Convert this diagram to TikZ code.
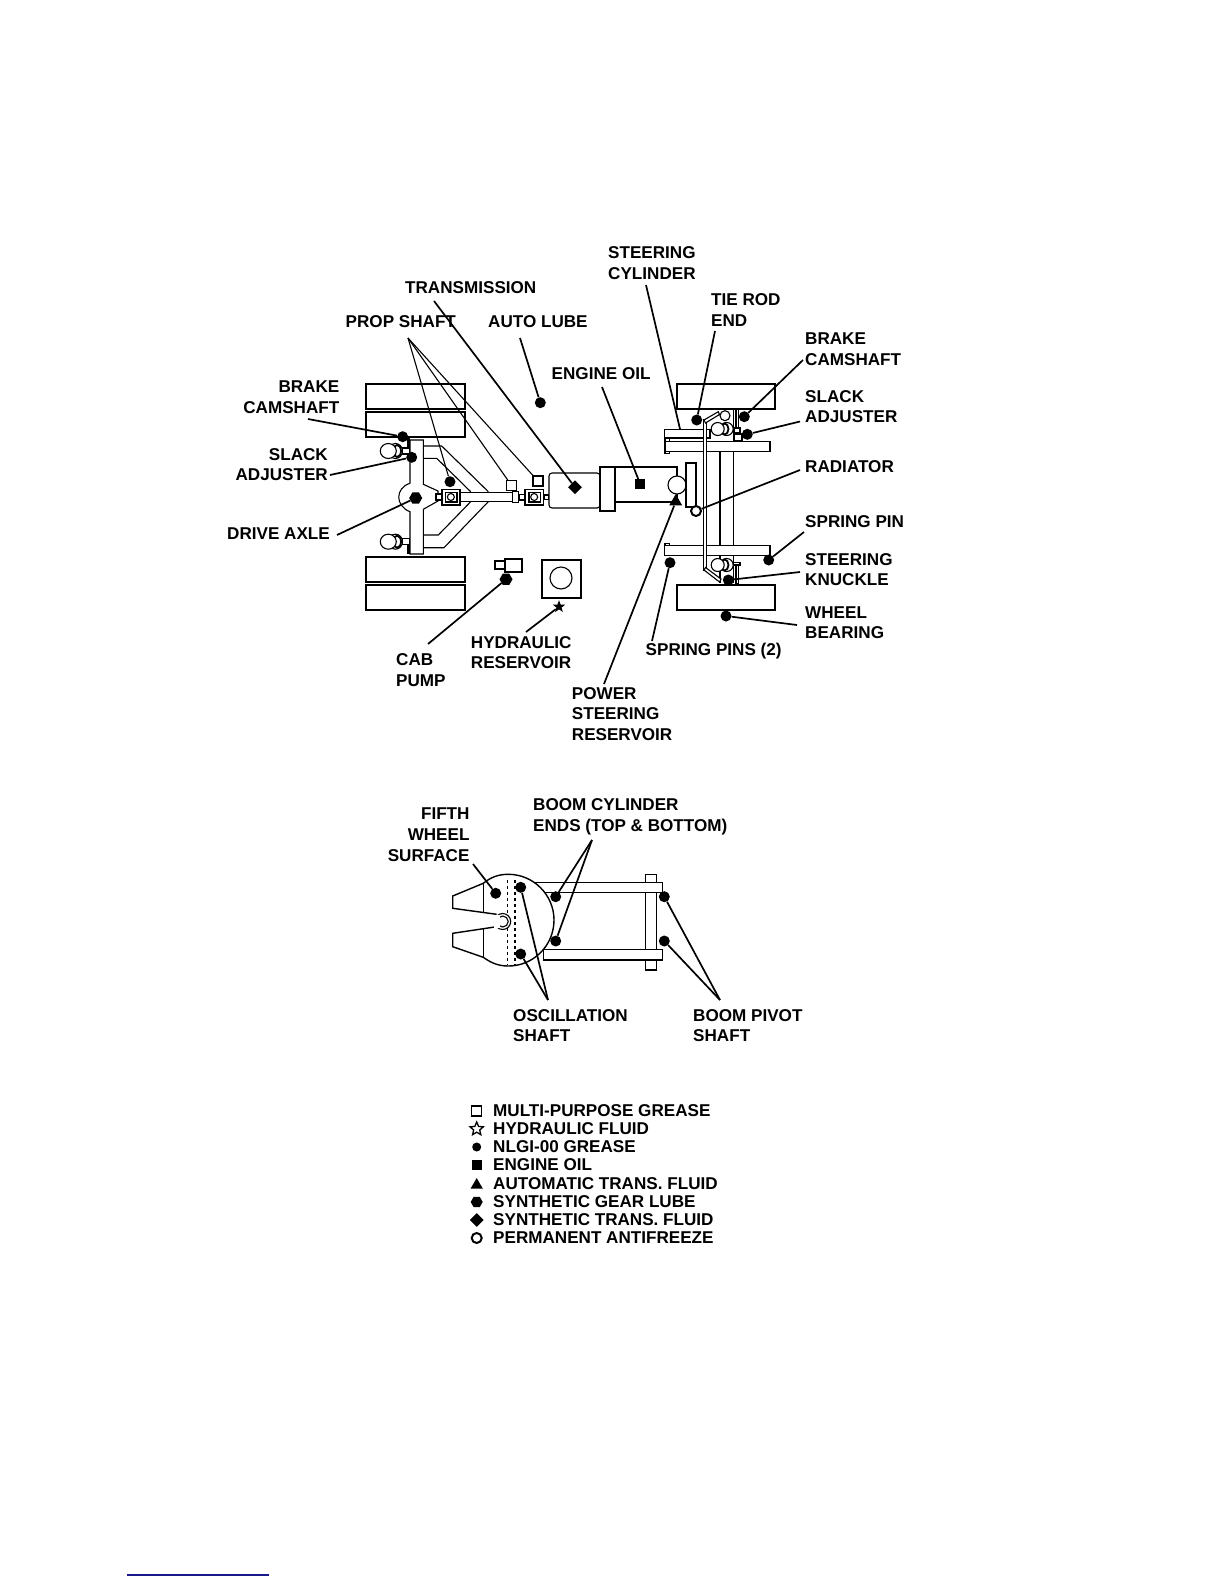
\documentclass[tikz,border=0pt]{standalone}
\usepackage{fontspec}
\setmainfont{Liberation Sans}
\usepackage{xcolor}
\usetikzlibrary{shapes.geometric, arrows.meta, positioning}
\definecolor{rulecol}{RGB}{25,25,140}

\begin{document}
\begin{tikzpicture}[
  x=1pt, y=-1pt,
  part/.style = {draw, line width=1.1pt, fill=white},
  plain/.style = {draw, line width=1.1pt},
  lead/.style = {draw, line width=1.7pt},
  lbl/.style = {inner sep=0pt, align=left, anchor=west, font=\bfseries\fontsize{17.1}{20.7}\selectfont},
  lblr/.style = {lbl, align=right, anchor=east},
  keytext/.style = {inner sep=0pt, anchor=west, font=\bfseries\fontsize{17.1}{18}\selectfont},
  dotmark/.style = {circle, fill=black, inner sep=0pt, minimum size=11pt},
  hexmark/.style = {regular polygon, regular polygon sides=6, fill=black, inner sep=0pt, minimum size=13pt},
  sqmark/.style = {rectangle, fill=black, inner sep=0pt, minimum size=10pt},
  dmdmark/.style = {diamond, fill=black, inner sep=0pt, minimum size=14pt},
  trimark/.style = {regular polygon, regular polygon sides=3, fill=black, inner sep=0pt, minimum size=15pt},
  starmark/.style = {star, star points=5, star point ratio=2.4, fill=black, inner sep=0pt, minimum size=13pt},
  ringmark/.style = {circle, draw, line width=2pt, fill=white, inner sep=0pt, minimum size=10pt},
  opensq/.style = {rectangle, draw, line width=1.3pt, fill=white, inner sep=0pt, minimum size=10pt},
  openstar/.style = {star, star points=5, star point ratio=2.2, draw, line width=1.3pt, fill=white, inner sep=0pt, minimum size=14pt}
]
  \useasboundingbox (0,0) rectangle (1224,1584);

  % rear wheels and axle
  \foreach \ytop/\ybot in {384/409, 412/437, 557/582, 585/610}
    \draw[part] (366,\ytop) rectangle (465,\ybot);
  \draw[plain] (423,446) -- (441.7,446) -- (488.3,491.7);
  \draw[plain] (423,458.3) -- (436.7,458.3) -- (470.7,491.7);
  \draw[plain] (423,535) -- (438.3,535) -- (470.7,501.7);
  \draw[plain] (423,547.7) -- (444,547.7) -- (488.3,501.7);
  \fill[black] (406.7,438) rectangle (410,458);
  \fill[black] (406.7,543) rectangle (410,554);
  \foreach \ypos in {451, 541.7} {
    \draw[part] (395.5,\ypos) ellipse (7 and 7.5);
    \draw[plain, line width=1.8pt] (397,\ypos) ellipse (4 and 6);
    \draw[part] (388.3,\ypos) ellipse (8 and 7.5);
    \draw[part] (402.7,\ypos-3) rectangle (410,\ypos+3);
  }
  \fill[white] (410,440) -- (423.3,440) -- (423.3,484.3) -- (438,491) -- (438,501) -- (423.3,509.3)
    -- (423.3,554) -- (410,554) -- (410,511.7) .. controls (395,506) and (395,488) .. (410,483.3) -- cycle;
  \draw[plain] (410,483.3) -- (410,440) -- (423.3,440) -- (423.3,484.3) -- (438,491) -- (438,501) -- (423.3,509.3)
    -- (423.3,554) -- (410,554) -- (410,511.7) .. controls (395,506) and (395,488) .. (410,483.3);

  % prop shaft
  \draw[part] (436,494) rectangle (441.7,500);
  \draw[part] (460,492.3) rectangle (513.3,501.7);
  \draw[part] (512.7,491.7) rectangle (518.3,502.3);
  \draw[part] (519,494.3) rectangle (525,500);
  \draw[part] (544,495) rectangle (548.3,499.3);
  \foreach \xa/\xb in {441.7/460, 525/543.3} {
    \draw[part, line width=1.6pt] (\xa,489.3) rectangle (\xb,505);
    \draw[plain] (\xa+4,492.5) rectangle (\xb-3,502);
    \draw[plain] ({(\xa+\xb)/2},497) circle (3.5);
  }
  \node[opensq] (propsqa) at (511.7,485.7) {};
  \node[opensq] (propsqb) at (538,481) {};

  % transmission and engine
  \draw[part, rounded corners=3pt] (549,473) rectangle (600,508);
  \draw[part] (615,467) rectangle (677,502);
  \draw[part] (600,467) rectangle (615,511);
  \draw[part] (677,485) circle (9);
  \draw[part] (686,463) rectangle (696,507);

  % cab pump and reservoir
  \draw[part] (505,559) rectangle (522,572);
  \draw[part] (495,561) rectangle (505,569);
  \draw[part] (542,560) rectangle (581,598);
  \draw[part] (561,578) circle (11);

  % front wheels and steering
  \draw[part] (677,384) rectangle (775,409);
  \draw[part] (677,585) rectangle (775,610);
  \draw[plain] (720,451) -- (720,546);
  \draw[plain] (733.3,409) -- (733.3,429);
  \draw[plain] (733.3,451) -- (733.3,546);
  \draw[plain] (720,555) -- (720,583);
  \draw[plain] (733.3,555) -- (733.3,583);
  \draw[part] (665,438) rectangle (669.3,453.3);
  \draw[part] (665,441.7) rectangle (770,451.3);
  \draw[part] (665,543.3) rectangle (669.3,546);
  \draw[part] (664.3,545.7) rectangle (770,555.3);
  \draw[part] (664.3,429.3) rectangle (710,438);
  \draw[part] (703.3,420) rectangle (706.7,570);
  \draw[part] (704,420) -- (718.3,411.7) -- (719.5,414.5) -- (705.5,423) -- cycle;
  \draw[part] (704,570) -- (705.5,567.5) -- (721,579) -- (719.5,582) -- cycle;
  \draw[part] (725,415.7) circle (5);
  \draw[part] (736,409) rectangle (738.7,433.3);
  \draw[part] (734,434) rectangle (742,441);
  \draw[part] (734,428) rectangle (740,433);
  \draw[part] (736,563.3) rectangle (738.7,583.3);
  \draw[part] (733.3,562.3) rectangle (740,565);
  \foreach \ypos in {429, 565} {
    \draw[part] (726.7,\ypos) circle (6.5);
    \draw[plain, line width=1.8pt] (724.5,\ypos) ellipse (4 and 5.5);
    \draw[part] (717.7,\ypos) circle (6.5);
  }

  % lube points
  \node[dotmark] (brakel) at (402.7,436.7) {};
  \node[dotmark] (slackl) at (411.7,457.3) {};
  \node[hexmark] (driveax) at (415.7,498) {};
  \node[dotmark] (propdot) at (450,481.7) {};
  \node[hexmark] (cabdot) at (506,579.3) {};
  \node[dotmark] (autolube) at (540.3,402.7) {};
  \node[dmdmark] (transdot) at (575,487.3) {};
  \node[sqmark] (engdot) at (640.3,484.3) {};
  \node[trimark] (powerdot) at (675.7,501.7) {};
  \node[ringmark] (raddot) at (696,511) {};
  \node[starmark] (hyddot) at (559,606.7) {};
  \node[dotmark] (tiedot) at (696.7,420) {};
  \node[dotmark] (braker) at (744.3,416.7) {};
  \node[dotmark] (slackr) at (747.3,434.3) {};
  \node[dotmark] (springr) at (768.7,560) {};
  \node[dotmark] (springl) at (670,562.7) {};
  \node[dotmark] (knuckle) at (728.3,580) {};
  \node[dotmark] (bearing) at (726,616) {};

  % labels
  \node[lbl] (steercyl) at (608,263) {STEERING\\CYLINDER};
  \node[lbl] (translbl) at (405,288) {TRANSMISSION};
  \node[lbl] (proplbl) at (345.5,322) {PROP SHAFT};
  \node[lbl] (autolbl) at (488,322) {AUTO LUBE};
  \node[lbl] (tielbl) at (711,310) {TIE ROD\\END};
  \node[lbl] (brakerlbl) at (805,349) {BRAKE\\CAMSHAFT};
  \node[lbl] (slackrlbl) at (805,406.5) {SLACK\\ADJUSTER};
  \node[lbl] (englbl) at (551.5,374) {ENGINE OIL};
  \node[lblr] (brakellbl) at (339.5,397) {BRAKE\\CAMSHAFT};
  \node[lblr] (slackllbl) at (328,464.6) {SLACK\\ADJUSTER};
  \node[lblr] (drivelbl) at (330,534) {DRIVE AXLE};
  \node[lbl] (radlbl) at (805,466.6) {RADIATOR};
  \node[lbl] (springlbl) at (805,522) {SPRING PIN};
  \node[lbl] (knucklbl) at (805,569.6) {STEERING\\KNUCKLE};
  \node[lbl] (bearlbl) at (805,622.7) {WHEEL\\BEARING};
  \node[lbl] (pinslbl) at (645.5,651.5) {SPRING PINS (2)};
  \node[lbl] (hydlbl) at (470.7,652.5) {HYDRAULIC\\RESERVOIR};
  \node[lbl] (cablbl) at (396,670) {CAB\\PUMP};
  \node[lbl] (powerlbl) at (571.7,714) {POWER\\STEERING\\RESERVOIR};

  % leaders
  \coordinate (propfoot) at (408,338);
  \draw[lead] (646,285) -- (680,429);
  \draw[lead] (715,331) -- (tiedot);
  \draw[lead] (803,360) -- (braker);
  \draw[lead] (800,421.5) -- (slackr);
  \draw[lead] (800,470) -- (raddot);
  \draw[lead] (804,532) -- (springr);
  \draw[lead] (800,572) -- (knuckle);
  \draw[lead] (797,625) -- (bearing);
  \draw[lead] (652,641) -- (springl);
  \draw[lead] (604,684) -- (powerdot);
  \draw[lead] (602,387) -- (engdot);
  \draw[lead] (434,301) -- (transdot);
  \draw[lead] (520,338) -- (autolube);
  \draw[plain] (propfoot) -- (propdot);
  \draw[plain] (propfoot) -- (propsqa);
  \draw[plain] (propfoot) -- (propsqb);
  \draw[lead] (308,419) -- (brakel);
  \draw[lead] (330,475) -- (slackl);
  \draw[lead] (337,535) -- (driveax);
  \draw[lead] (428,644) -- (cabdot);
  \draw[lead] (526,632) -- (hyddot);

  % boom and fifth wheel
  \draw[part] (645.7,874.3) rectangle (656.7,970);
  \draw[part] (530,882.3) rectangle (662.3,892.7);
  \draw[part] (543.3,949.3) rectangle (662.3,960);
  \draw[part, line width=1.4pt] (496.7,926.7) -- (452.7,933.3) -- (452.7,946.7) -- (483.3,957.3)
    .. controls (490,962) and (497,966) .. (508.3,966)
    .. controls (533.5,966) and (554,945.5) .. (554,920)
    .. controls (554,895) and (533.5,874.3) .. (508.3,874.3)
    .. controls (497,874.3) and (490,878) .. (483.3,883.3)
    -- (452.7,896) -- (452.7,908.3) -- (496.7,914.3);
  \draw[plain] (483.3,883.3) -- (483.3,911.7);
  \draw[plain] (483.3,929.3) -- (483.3,957.3);
  \draw[plain, dashed] (507.7,880) -- (507.7,965);
  \draw[plain, dashed] (515,880) -- (515,965);
  \draw[part] (502.7,921.5) circle (8);
  \draw[plain] (502.7,921.5) circle (5.5);
  \fill[white] (494,915) rectangle (500,928);

  \node[dotmark] (fifthdot) at (495.7,893.3) {};
  \node[dotmark] (oscta) at (520.7,887.3) {};
  \node[dotmark] (osctb) at (520.7,954) {};
  \node[dotmark] (cyla) at (555.7,896.7) {};
  \node[dotmark] (cylb) at (555.7,941) {};
  \node[dotmark] (pivota) at (664.3,896.7) {};
  \node[dotmark] (pivotb) at (664.3,941) {};

  \node[lblr] (fifthlbl) at (469.7,834.8) {FIFTH\\WHEEL\\SURFACE};
  \node[lbl] (cyllbl) at (533,816.6) {BOOM CYLINDER\\ENDS (TOP \& BOTTOM)};
  \node[lbl] (osclbl) at (513,1025.7) {OSCILLATION\\SHAFT};
  \node[lbl] (pivotlbl) at (693,1025.7) {BOOM PIVOT\\SHAFT};

  \coordinate (cylapex) at (592,840);
  \coordinate (oscapex) at (548,1000);
  \coordinate (pivotapex) at (720,1000);
  \draw[lead] (473,864) -- (fifthdot);
  \draw[lead] (cylapex) -- (cyla);
  \draw[lead] (cylapex) -- (cylb);
  \draw[lead] (oscapex) -- (oscta);
  \draw[lead] (oscapex) -- (osctb);
  \draw[lead] (pivotapex) -- (pivota);
  \draw[lead] (pivotapex) -- (pivotb);

  % key
  \node[opensq] (keya) at (476.7,1111) {};
  \node[openstar] (keyb) at (476.7,1129) {};
  \node[dotmark, minimum size=9pt] (keyc) at (476.7,1147) {};
  \node[sqmark] (keyd) at (476.7,1165) {};
  \node[trimark, minimum size=14pt] (keye) at (476.7,1185) {};
  \node[hexmark, minimum size=12pt] (keyf) at (476.7,1202) {};
  \node[dmdmark] (keyg) at (476.7,1220) {};
  \node[ringmark] (keyh) at (476.7,1238) {};
  \foreach \ypos/\keytxt in {1111/MULTI-PURPOSE GREASE, 1129/HYDRAULIC FLUID, 1147/NLGI-00 GREASE,
      1165/ENGINE OIL, 1184/AUTOMATIC TRANS. FLUID, 1202/SYNTHETIC GEAR LUBE,
      1220/SYNTHETIC TRANS. FLUID, 1238/PERMANENT ANTIFREEZE}
    \node[keytext] (key\ypos) at (493,\ypos) {\keytxt};

  \draw[rulecol, line width=1.2pt] (127,1575) -- (269,1575);
\end{tikzpicture}
\end{document}
